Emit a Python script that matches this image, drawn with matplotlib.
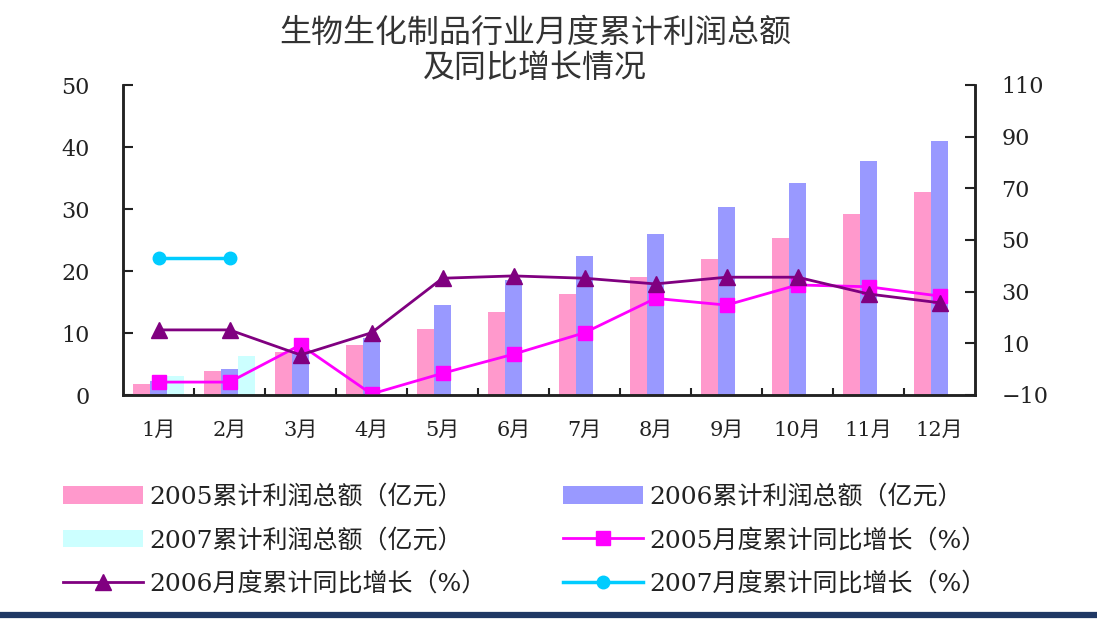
import matplotlib
matplotlib.use("Agg")
import matplotlib.pyplot as plt
import numpy as np
from matplotlib.lines import Line2D

months = ["1月", "2月", "3月", "4月", "5月", "6月", "7月", "8月", "9月", "10月", "11月", "12月"]
profit_2005 = [1.8, 3.8, 7.0, 8.1, 10.7, 13.4, 16.3, 19.1, 22.0, 25.3, 29.2, 32.8]
profit_2006 = [2.2, 4.2, 7.0, 9.2, 14.5, 18.6, 22.4, 26.0, 30.3, 34.2, 37.8, 41.0]
profit_2007 = [3.1, 6.3]
growth_2005 = [-5.0, -5.0, 9.4, -9.6, -1.6, 5.8, 14.1, 27.4, 24.8, 32.6, 31.9, 28.3]
growth_2006 = [15.2, 15.2, 5.5, 14.1, 35.2, 36.1, 35.2, 33.0, 35.6, 35.6, 29.1, 25.7]
growth_2007 = [43.2, 43.2]

labels = ["2005累计利润总额（亿元）", "2006累计利润总额（亿元）", "2007累计利润总额（亿元）",
          "2005月度累计同比增长（%）", "2006月度累计同比增长（%）", "2007月度累计同比增长（%）"]
title = "生物生化制品行业月度累计利润总额\n及同比增长情况"

FAM = ["DejaVu Serif", "Noto Sans CJK SC"]
plt.rcParams["font.family"] = FAM
TXT = "#222222"

W, H = 1097, 619
fig = plt.figure(figsize=(W / 100, H / 100), dpi=100)
ax = fig.add_axes([123 / W, 1 - 395 / H, (975 - 123) / W, (395 - 85) / H])
ax2 = ax.twinx()

x = np.arange(len(months))
bw = 0.24
c_pink, c_blue, c_cyan = "#FF99CC", "#9999FF", "#CCFFFF"
b1 = ax.bar(x - bw, profit_2005, bw, color=c_pink, label=labels[0])
b2 = ax.bar(x, profit_2006, bw, color=c_blue, label=labels[1])
b3 = ax.bar(x[:len(profit_2007)] + bw, profit_2007, bw, color=c_cyan, label=labels[2])

l1, = ax2.plot(x, growth_2005, color="#FF00FF", lw=2, marker="s", ms=9.5, label=labels[3])
l2, = ax2.plot(x, growth_2006, color="#800080", lw=2, marker="^", ms=11, label=labels[4])
l3, = ax2.plot(x[:len(growth_2007)], growth_2007, color="#00CCFF", lw=2.5, marker="o", ms=9, label=labels[5])

ax.set_xlim(-0.5, 11.5)
ax.set_ylim(0, 50)
ax.set_yticks(np.arange(0, 51, 10))
ax2.set_ylim(-10, 110)
ax2.set_yticks(np.arange(-10, 111, 20))

ax.set_xticks(x)
ax.set_xticklabels(months)
ax.set_xticks(np.arange(0.5, 11, 1), minor=True)
ax.tick_params(axis="x", which="major", length=0, pad=19, labelsize=15, labelcolor=TXT)
ax.tick_params(axis="x", which="minor", length=5, direction="in", width=1.5, color="#222222")
ax.tick_params(axis="y", direction="in", length=7, width=1.5, labelsize=16, pad=24,
               labelcolor=TXT, color="#222222")
ax2.tick_params(axis="y", direction="in", length=7, width=1.5, labelsize=16, pad=19,
                labelcolor=TXT, color="#222222")

for a in (ax, ax2):
    a.spines["top"].set_visible(False)
    for s in ("left", "right", "bottom"):
        a.spines[s].set_linewidth(1.8)
        a.spines[s].set_color("#222222")

fig.text(535 / W, 1 - 17 / H, title, ha="center", va="top", fontsize=23,
         linespacing=1.12, color="#333333", family=["Noto Sans CJK SC"])

leg_kw = dict(loc="upper left", frameon=False, fontsize=18, handlelength=3.2,
              handleheight=0.7, labelspacing=0.78, handletextpad=0.25, borderpad=0,
              borderaxespad=0, labelcolor=TXT)
left_h = [b1, b3, l2]
right_h = [b2, l1, l3]
leg1 = fig.legend(left_h, [h.get_label() for h in left_h],
                  bbox_to_anchor=(63 / W, 1 - 485 / H), **leg_kw)
leg2 = fig.legend(right_h, [h.get_label() for h in right_h],
                  bbox_to_anchor=(563 / W, 1 - 485 / H), **leg_kw)

fig.add_artist(Line2D([0, 1], [1 - 615 / H, 1 - 615 / H], transform=fig.transFigure,
                      color="#1F3864", lw=4.5))

fig.savefig("out.png", dpi=100)
